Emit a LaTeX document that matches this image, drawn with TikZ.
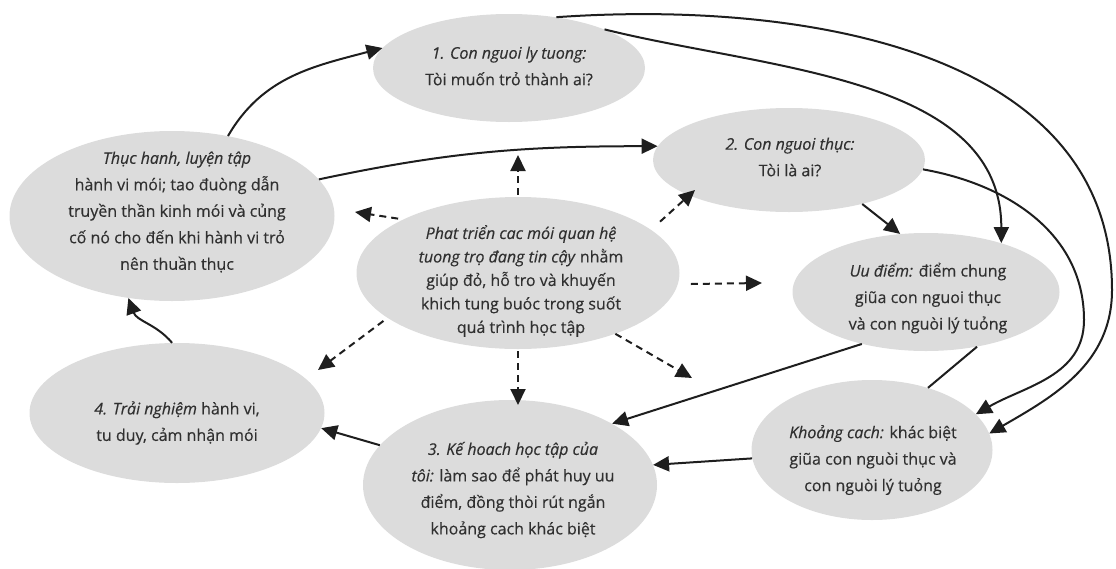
\documentclass[tikz,border=0pt]{standalone}
\usepackage{fontspec}
\setmainfont{Open Sans}[FakeBold=0.35]
\usetikzlibrary{shapes.geometric,arrows.meta}
\definecolor{bubblefill}{HTML}{DCDCDC}
\definecolor{ink}{HTML}{303030}
\definecolor{wire}{HTML}{1E1E1E}
\begin{document}
\begin{tikzpicture}[x=1pt,y=1pt,
  bubble/.style={ellipse, fill=bubblefill, draw=none, inner sep=0pt},
  txt/.style={align=center, text=ink, inner sep=0pt, font=\fontsize{16}{26.5}\selectfont},
  txtc/.style={txt, font=\fontsize{16}{23.5}\selectfont},
  link/.style={draw=wire, line width=2pt, -{Triangle[length=16pt,width=15pt]}},
  dlink/.style={link, dash pattern=on 7pt off 5pt},
  plainlink/.style={draw=wire, line width=2pt}]
\useasboundingbox (0,0) rectangle (1116,-568);

% bubbles
\node[bubble, minimum width=272pt, minimum height=108pt] (top) at (509,-68) {};
\node[bubble, minimum width=325pt, minimum height=170pt] (left) at (172,-216) {};
\node[bubble, minimum width=323pt, minimum height=152pt] (mid) at (518,-273) {};
\node[bubble, minimum width=272pt, minimum height=104pt] (thuc) at (789,-160) {};
\node[bubble, minimum width=267pt, minimum height=118pt] (uu) at (926,-292) {};
\node[bubble, minimum width=241pt, minimum height=140pt] (kc) at (872,-450) {};
\node[bubble, minimum width=294pt, minimum height=170pt] (kh) at (510,-485) {};
\node[bubble, minimum width=295pt, minimum height=140pt] (tn) at (177,-413) {};

% texts
\node[txt] (topt) at (509,-66) {\textit{1. Con nguoi ly tuong:}\\Tòi muốn trỏ thành ai?};
\node[txt] (leftt) at (177,-212) {\textit{Thục hanh, luyện tập}\\hành vi mói; tao đuòng dẫn\\truyền thần kinh mói và củng\\cố nó cho đến khi hành vi trỏ\\nên thuần thục};
\node[txtc] (midt) at (521,-281) {\textit{Phat triển cac mói quan hệ}\\\textit{tuong trọ đang tin cậy} nhằm\\giúp đỏ, hỗ tro và khuyến\\khich tung buóc trong suốt\\quá trình học tập};
\node[txt] (thuct) at (790,-157) {\textit{2. Con nguoi thục:}\\Tòi là ai?};
\node[txt] (uut) at (928,-298) {\textit{Uu điểm:} điểm chung\\giũa con nguoi thục\\và con nguòi lý tuỏng};
\node[txt] (kct) at (873,-460) {\textit{Khoảng cach:} khác biệt\\giũa con nguòi thục và\\con nguòi lý tuỏng};
\node[txt] (kht) at (513,-490) {\textit{3. Kế hoach học tập của}\\\textit{tôi:} làm sao để phát huy uu\\điểm, đồng thòi rút ngắn\\khoảng cach khác biệt};
\node[txt] (tnt) at (177,-423) {\textit{4. Trải nghiệm} hành vi,\\tu duy, cảm nhận mói};

% solid connectors
\draw[link] (left.55) to[out=60,in=195] (top.171);
\draw[link] (left.14) to[out=12,in=180] (thuc.174);
\draw[link] (top.22) to[out=-14,in=90,looseness=0.95] (uu.33);
\coordinate (o1) at (1112,-290);
\draw[link] (top.47) to[out=4,in=90] (o1) to[out=-90,in=30] (kc.8);
\coordinate (o2) at (1084,-320);
\draw[link] (thuc.-4) to[out=-10,in=90] (o2) to[out=-90,in=30] (kc.19);
\draw[link] (thuc.-31) -- (uu.114);
\draw[link] (uu.-141) -- (kh.31);
\draw[plainlink] (uu.-47) -- (kc.48);
\draw[link] (kc.184) -- (kh.8);
\draw[link] (kh.163) -- (tn.-6);
\draw[link] (tn.94) to[out=130,in=-70] (left.-118);

% dashed connectors
\coordinate (d1) at (518,-155);
\coordinate (d2) at (355,-212);
\coordinate (d3) at (695,-190);
\coordinate (d4) at (762,-283);
\coordinate (d5) at (692,-378);
\coordinate (d6) at (518,-405);
\coordinate (d7) at (318,-370);
\draw[dlink, shorten <=2pt] (mid.90) -- (d1);
\draw[dlink, shorten <=5pt] (mid.155) -- (d2);
\draw[dlink, shorten <=12pt] (mid.18) -- (d3);
\draw[dlink, shorten <=13pt] (mid.-4) -- (d4);
\draw[dlink] (mid.-32) -- (d5);
\draw[dlink, shorten <=2pt] (mid.-90) -- (d6);
\draw[dlink, shorten <=5pt] (mid.-161) -- (d7);
\end{tikzpicture}
\end{document}
